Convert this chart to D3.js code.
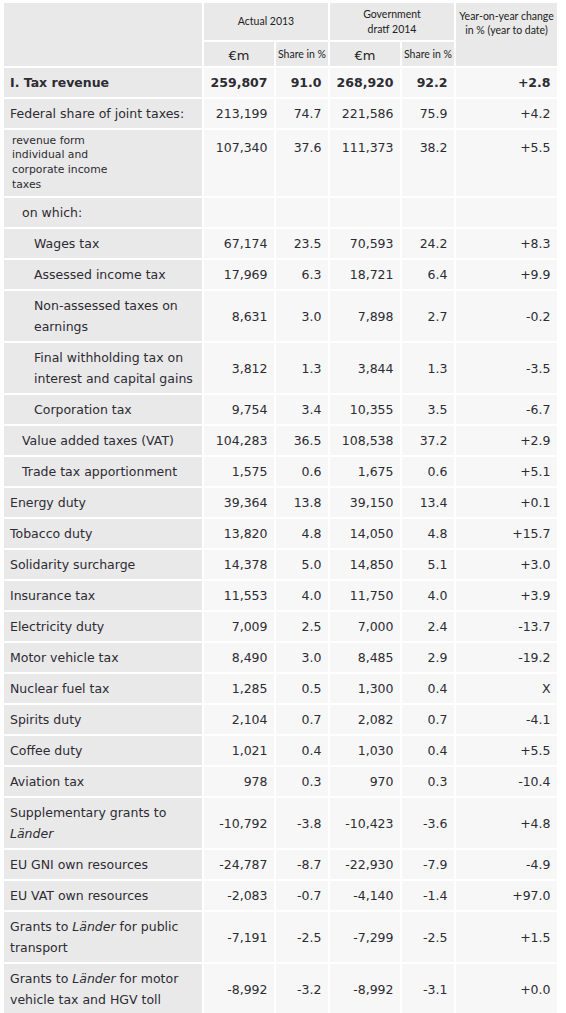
<!DOCTYPE html>
<html><head><meta charset="utf-8">
<script src="https://cdn.jsdelivr.net/npm/d3@7"></script>
<style>
html,body{margin:0;padding:0;background:#fff;}
svg{display:block;}
</style></head>
<body>
<svg id="chart" width="566" height="1013"></svg>
<script>
// ---------- data ----------
const labels = [
  "I. Tax revenue",
  "Federal share of joint taxes:",
  "revenue form\nindividual and\ncorporate income\ntaxes",
  "on which:",
  "Wages tax",
  "Assessed income tax",
  "Non-assessed taxes on\nearnings",
  "Final withholding tax on\ninterest and capital gains",
  "Corporation tax",
  "Value added taxes (VAT)",
  "Trade tax apportionment",
  "Energy duty",
  "Tobacco duty",
  "Solidarity surcharge",
  "Insurance tax",
  "Electricity duty",
  "Motor vehicle tax",
  "Nuclear fuel tax",
  "Spirits duty",
  "Coffee duty",
  "Aviation tax",
  "Supplementary grants to\n_Länder_",
  "EU GNI own resources",
  "EU VAT own resources",
  "Grants to _Länder_ for public\ntransport",
  "Grants to _Länder_ for motor\nvehicle tax and HGV toll"
];
const indentLevels = [0,0,-1,1,2,2,2,2,2,1,1,0,0,0,0,0,0,0,0,0,0,0,0,0,0,0];
const eur2013 = [259807,213199,107340,null,67174,17969,8631,3812,9754,104283,1575,39364,13820,14378,11553,7009,8490,1285,2104,1021,978,-10792,-24787,-2083,-7191,-8992];
const share2013 = [91.0,74.7,37.6,null,23.5,6.3,3.0,1.3,3.4,36.5,0.6,13.8,4.8,5.0,4.0,2.5,3.0,0.5,0.7,0.4,0.3,-3.8,-8.7,-0.7,-2.5,-3.2];
const eur2014 = [268920,221586,111373,null,70593,18721,7898,3844,10355,108538,1675,39150,14050,14850,11750,7000,8485,1300,2082,1030,970,-10423,-22930,-4140,-7299,-8992];
const share2014 = [92.2,75.9,38.2,null,24.2,6.4,2.7,1.3,3.5,37.2,0.6,13.4,4.8,5.1,4.0,2.4,2.9,0.4,0.7,0.4,0.3,-3.6,-7.9,-1.4,-2.5,-3.1];
const yoyChange = [2.8,4.2,5.5,null,8.3,9.9,-0.2,-3.5,-6.7,2.9,5.1,0.1,15.7,3.0,3.9,-13.7,-19.2,"X",-4.1,5.5,-10.4,4.8,-4.9,97.0,1.5,0.0];
const groupHeaders = ["Actual 2013","Government\ndratf 2014"];
const yoyHeader = "Year-on-year change\nin % (year to date)";
const subHeaders = ["€m","Share in %","€m","Share in %"];

// ---------- formatting ----------
const loc = d3.formatLocale({decimal:".",thousands:",",grouping:[3],currency:["",""],minus:"-"});
const fInt = loc.format(","), fPct = loc.format(".1f"), fYoy = loc.format("+.1f");
const fmt = (v,f) => v === null ? "" : (typeof v === "string" ? v : f(v));

const rows = labels.map((l,i)=>({
  label:l, indent:indentLevels[i], bold:i===0,
  cells:[fmt(eur2013[i],fInt),fmt(share2013[i],fPct),fmt(eur2014[i],fInt),fmt(share2014[i],fPct),fmt(yoyChange[i],fYoy)]
}));

// ---------- layout ----------
const svg = d3.select("#chart");
const bodyFont = "'DejaVu Sans', Verdana, sans-serif";
const headFont = "Lato, 'Open Sans', sans-serif";
const bodySize = 12.5;
const textCol = "#2d2b33";
const labelBg = "#e9e9e9", cellBg = "#f7f7f7", headBg = "#e9e9e9";
const gap = 2;
// column edges
const colX = [4, 204, 276, 330, 402, 456];
const colW = [198, 70, 52, 70, 52, 101];

// row heights from line counts
const lineH = 21;
rows.forEach(r=>{
  r.lines = r.label.split("\n");
  r.h = r.indent === -1 ? 66 : (r.lines.length === 1 ? 29 : 50);
});
let yAcc = 68;
rows.forEach(r=>{ r.y = yAcc; yAcc += r.h + gap; });

// header
const hdr = svg.append("g");
hdr.append("rect").attr("x",4).attr("y",3).attr("width",198).attr("height",63).attr("fill",headBg);
[0,1].forEach(g=>{
  const x = colX[1+2*g], w = colW[1+2*g]+gap+colW[2+2*g];
  hdr.append("rect").attr("x",x).attr("y",3).attr("width",w).attr("height",37).attr("fill",headBg);
  const ls = groupHeaders[g].split("\n");
  const t = hdr.append("text").attr("font-family",headFont).attr("font-size",10.5).attr("fill","#222")
    .attr("text-anchor","middle");
  ls.forEach((s,k)=>{
    t.append("tspan").attr("x",x+w/2).attr("y",21.5 + (k-(ls.length-1)/2)*14.5 + 3.8).text(s);
  });
});
hdr.append("rect").attr("x",colX[5]).attr("y",3).attr("width",colW[5]).attr("height",63).attr("fill",headBg);
{
  const ls = yoyHeader.split("\n");
  const t = hdr.append("text").attr("font-family",headFont).attr("font-size",10.5).attr("fill","#222").attr("text-anchor","middle");
  ls.forEach((s,k)=>t.append("tspan").attr("x",colX[5]+colW[5]/2).attr("y",16.5+k*14+3.8).text(s));
}
subHeaders.forEach((s,k)=>{
  const x = colX[k+1], w = colW[k+1];
  hdr.append("rect").attr("x",x).attr("y",42).attr("width",w).attr("height",24).attr("fill",headBg);
  const isEur = s === "€m";
  hdr.append("text").attr("x",x+w/2).attr("y",isEur?59.5:57.5).attr("text-anchor","middle")
    .attr("font-family",isEur?bodyFont:headFont).attr("font-size",isEur?13:10.5).attr("fill","#222").text(s);
});

// body
const rowG = svg.append("g").selectAll("g").data(rows).join("g")
  .attr("transform",d=>`translate(0,${d.y})`);

rowG.selectAll("rect").data(d=>colX.map((x,k)=>({x,w:colW[k],h:d.h,k}))).join("rect")
  .attr("x",c=>c.x).attr("y",0).attr("width",c=>c.w).attr("height",c=>c.h)
  .attr("fill",c=>c.k===0?labelBg:cellBg);

const indentX = {"-1":12, 0:10, 1:22, 2:34};

rowG.each(function(d){
  const g = d3.select(this);
  const small = d.indent === -1;
  const t = g.append("text").attr("font-family",bodyFont).attr("font-size",small?10.8:bodySize)
    .attr("font-weight",d.bold?"bold":"normal").attr("fill",textCol);
  d.lines.forEach((line,k)=>{
    const cy = small ? 9.5 + k*14.7 : (d.lines.length===1 ? d.h/2 : 4 + lineH/2 + k*lineH);
    const tsp = t.append("tspan").attr("x",indentX[d.indent]).attr("y",cy + (small?4:4.5));
    // italic segments marked with _..._
    line.split("_").forEach((seg,si)=>{
      if(!seg) return;
      tsp.append("tspan").attr("font-style",si%2===1?"italic":null).text(seg);
    });
  });
  // values
  d.cells.forEach((v,k)=>{
    const cy = small ? 17 : d.h/2;
    g.append("text").attr("x",colX[k+1]+colW[k+1]-6.5).attr("y",cy+4.5)
      .attr("text-anchor","end").attr("font-family",bodyFont).attr("font-size",bodySize)
      .attr("font-weight",d.bold?"bold":"normal").attr("fill",textCol).text(v);
  });
});
</script>
</body></html>
